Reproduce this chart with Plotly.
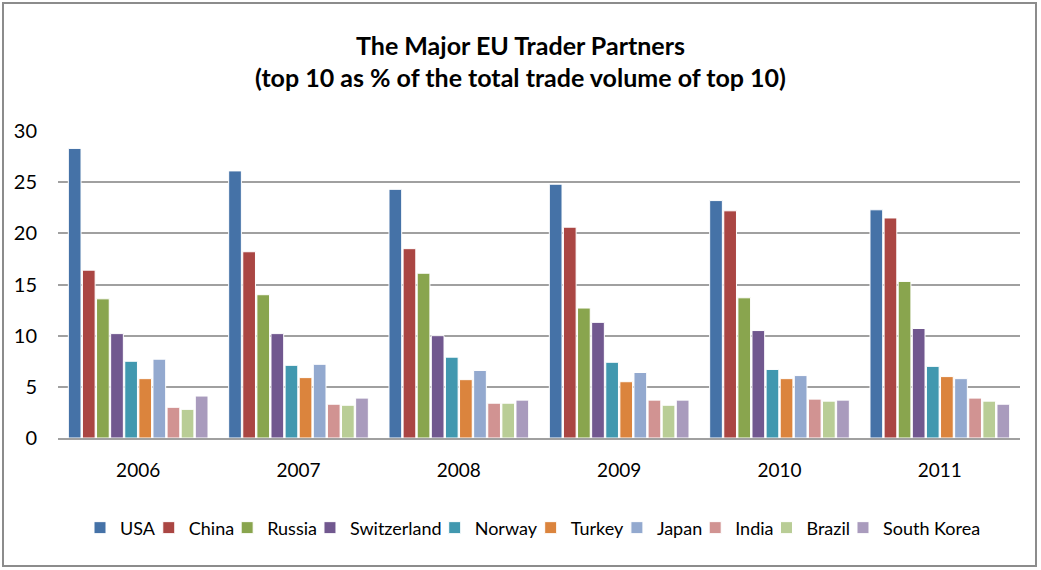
import plotly.graph_objects as go

years = ["2006", "2007", "2008", "2009", "2010", "2011"]
partners = ["USA", "China", "Russia", "Switzerland", "Norway", "Turkey", "Japan", "India", "Brazil", "South Korea"]
colors = ["#4572A7", "#AA4643", "#89A54E", "#71588F", "#4198AF", "#DB843D", "#93A9CF", "#D19392", "#B9CD96", "#A99BBD"]

usa = [28.3, 26.1, 24.3, 24.8, 23.2, 22.3]
china = [16.4, 18.2, 18.5, 20.6, 22.2, 21.5]
russia = [13.6, 14.0, 16.1, 12.7, 13.7, 15.3]
switzerland = [10.2, 10.2, 10.0, 11.3, 10.5, 10.7]
norway = [7.5, 7.1, 7.9, 7.4, 6.7, 7.0]
turkey = [5.8, 5.9, 5.7, 5.5, 5.8, 6.0]
japan = [7.7, 7.2, 6.6, 6.4, 6.1, 5.8]
india = [3.0, 3.3, 3.4, 3.7, 3.8, 3.9]
brazil = [2.8, 3.2, 3.4, 3.2, 3.6, 3.6]
south_korea = [4.1, 3.9, 3.7, 3.7, 3.7, 3.3]

series = [usa, china, russia, switzerland, norway, turkey, japan, india, brazil, south_korea]

FONT = "Lato, Carlito, sans-serif"

fig = go.Figure()
for name, vals, col in zip(partners, series, colors):
    fig.add_trace(go.Bar(x=years, y=vals, name=name, marker=dict(color=col, line=dict(color="white", width=1))))

fig.update_layout(
    width=1041, height=570,
    margin=dict(l=58, r=21, t=131, b=132, autoexpand=False),
    paper_bgcolor="white", plot_bgcolor="white",
    barmode="group", bargap=0.12, bargroupgap=0.1,
    font=dict(family=FONT, color="#000000"),
    title=dict(
        text="<b>The Major EU Trader Partners<br>(top 10 as % of the total trade volume of top 10)</b>",
        x=0.5, xanchor="center", y=0.904, yanchor="middle",
        font=dict(size=25, family=FONT, color="#000000"),
    ),
    legend=dict(orientation="h", x=0.5, xanchor="center", y=-0.293, yanchor="middle",
                font=dict(size=18, family=FONT), itemwidth=30, indentation=-12, tracegroupgap=0),
    showlegend=True,
)
fig.update_yaxes(range=[0, 30], dtick=5, showgrid=True, gridcolor="#A0A0A0", gridwidth=1.5,
                 tickfont=dict(size=20, family=FONT), ticks="", zeroline=False, showline=False,
                 ticklabelstandoff=20, automargin=False)
fig.update_xaxes(showline=True, linecolor="#A0A0A0", linewidth=1.5, tickfont=dict(size=19, family=FONT),
                 ticks="", ticklabelstandoff=14, automargin=False)

fig.add_shape(type="rect", xref="paper", yref="paper",
              x0=(3 - 58) / 962, x1=(1036 - 58) / 962, y0=(438 - 566) / 307, y1=(438 - 3) / 307,
              line=dict(color="#8C8C8C", width=2), fillcolor="rgba(0,0,0,0)", layer="below")

fig.write_html("out.html", config={"displayModeBar": False},
               post_script="document.body.style.margin='0';document.body.style.overflow='hidden';")
